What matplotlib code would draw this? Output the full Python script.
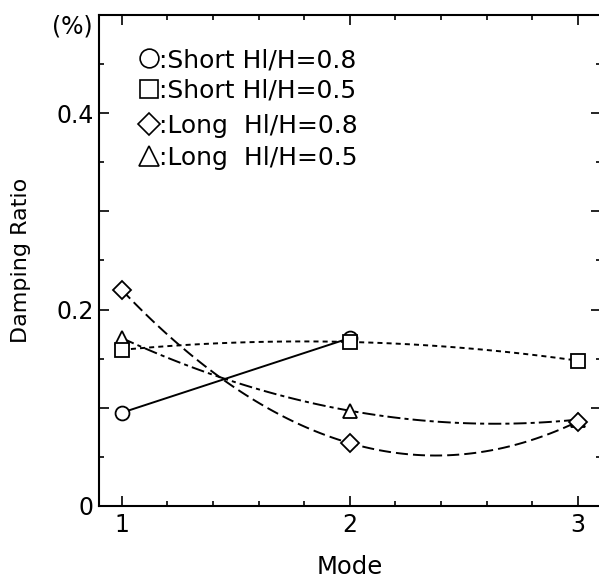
import numpy as np
import matplotlib.pyplot as plt
from matplotlib.ticker import MultipleLocator, FixedLocator

plt.rcParams['font.family'] = ['DejaVu Sans']

# data
modes = [1, 2, 3]
short_08 = [0.095, 0.171]          # only modes 1 and 2
short_05 = [0.159, 0.167, 0.148]
long_08 = [0.220, 0.064, 0.086]
long_05 = [0.171, 0.097, 0.088]

fig = plt.figure(figsize=(5.99, 5.80), dpi=100)
ax = fig.add_axes([0.1653, 0.1276, 0.8374, 0.8466])


def smooth(x, y):
    # quadratic through the three points, like the original curve
    c = np.polyfit(x, y, 2)
    xs = np.linspace(min(x), max(x), 100)
    return xs, np.polyval(c, xs)


lw = 1.4
ax.plot(modes[:2], short_08, color='black', lw=lw)

xs, ys = smooth(modes, short_05)
ax.plot(xs, ys, color='black', lw=lw, dashes=(2.6, 2.1))
xs, ys = smooth(modes, long_08)
ax.plot(xs, ys, color='black', lw=lw, dashes=(6.2, 2.6))
xs, ys = smooth(modes, long_05)
ax.plot(xs, ys, color='black', lw=lw, dashes=(6.7, 2.1, 2.1, 2.1))

mk = dict(color='black', mfc='white', mew=1.3, ls='none', zorder=3)
ax.plot(modes[:2], short_08, marker='o', ms=10, **mk)
ax.plot(modes, long_05, marker='^', ms=9.5, **mk)
ax.plot(modes, short_05, marker='s', ms=10, **mk)
ax.plot(modes, long_08, marker='D', ms=8.8, **mk)

ax.set_xlim(0.9, 3.1)
ax.set_ylim(0, 0.5)

ax.xaxis.set_major_locator(FixedLocator([1, 2, 3]))
ax.xaxis.set_minor_locator(MultipleLocator(0.2))
ax.yaxis.set_major_locator(MultipleLocator(0.1))
ax.yaxis.set_minor_locator(MultipleLocator(0.05))
ax.yaxis.set_major_formatter(plt.FuncFormatter(
    lambda v, p: {0: '0', 2: '0.2', 4: '0.4'}.get(int(round(v * 10)), '')))

ax.tick_params(which='both', direction='in', top=True, right=True,
               labelsize=17, width=1.2)
ax.tick_params(axis='x', pad=5)
ax.tick_params(axis='y', pad=4)
ax.tick_params(which='major', length=7)
ax.tick_params(which='minor', length=3.5)
for s in ax.spines.values():
    s.set_linewidth(1.5)

ax.set_xlabel('Mode', fontsize=17.5)
ax.xaxis.set_label_coords(0.5, -0.10)
ax.set_ylabel('Damping Ratio', fontsize=16)
ax.yaxis.set_label_coords(-0.136, 0.5)
fig.text(0.155, 0.955, '(%)', fontsize=17, ha='right', va='center')

# legend written as marker + text, like the original
leg_labels = [':Short Hl/H=0.8', ':Short Hl/H=0.5',
              ':Long  Hl/H=0.8', ':Long  Hl/H=0.5']
leg_markers = [('o', 13.5), ('s', 12.5), ('D', 11.5), ('^', 15)]
text_y = [0.894, 0.831, 0.760, 0.694]
mark_y = [0.912, 0.849, 0.778, 0.713]
for t, (m, ms), ty, my in zip(leg_labels, leg_markers, text_y, mark_y):
    ax.plot([0.0997], [my], marker=m, ms=ms, color='black', mfc='white',
            mew=1.2, transform=ax.transAxes, clip_on=False)
    ax.text(0.119, ty, t, transform=ax.transAxes, fontsize=18,
            va='baseline', ha='left')

fig.savefig('out.png', dpi=100)
